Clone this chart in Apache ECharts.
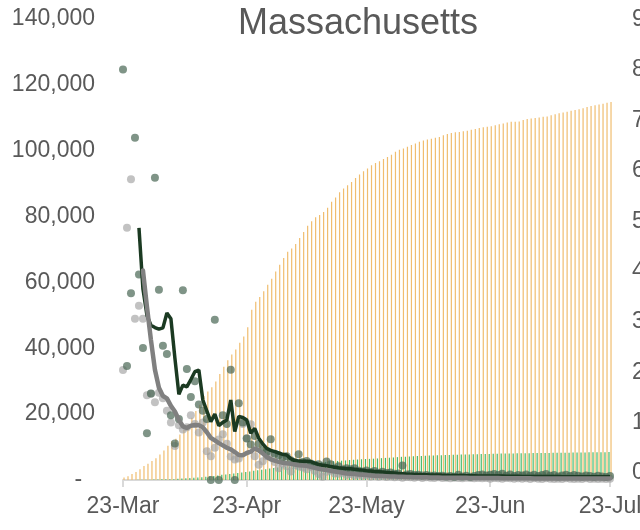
<!DOCTYPE html>
<html lang="en">
<head>
    <meta charset="UTF-8">
    <title>Massachusetts</title>
    <script src="https://cdn.jsdelivr.net/npm/echarts@6/dist/echarts.min.js"></script>
    <style>
        html, body { margin: 0; padding: 0; background: #fff; }
        #main { width: 640px; height: 530px; }
    </style>
</head>
<body>
<div id="main"></div>
<script type="text/javascript">
    // cumulative cases, one per day from 23-Mar to 23-Jul (left axis)
    var cumCases = [
        777, 1159, 1838, 2417, 3240, 4257, 4955, 5752, 6620, 7738,
        8966, 10402, 11736, 12500, 13837, 15202, 16790, 18941, 20974, 22860,
        25475, 26867, 28163, 29918, 32181, 34402, 36372, 38077, 39643, 41700,
        43600, 46400, 51700, 54100, 55600, 57300, 59300, 61100, 63300, 65400,
        67400, 69300, 70300, 71700, 73500, 75300, 77200, 78600, 79800, 80500,
        81400, 82700, 84500, 85800, 87400, 88500, 89500, 90500, 91700, 92800,
        93800, 94600, 95600, 96300, 96800, 97500, 98100, 98800, 99700, 100300,
        100700, 101200, 101700, 102200, 102700, 103100, 103400, 103600, 103900, 104200,
        104700, 105100, 105400, 105600, 105700, 105900, 106100, 106400, 106600, 106900,
        107100, 107300, 107400, 107700, 108000, 108300, 108600, 108800, 108800, 108900,
        109300, 109600, 109800, 109900, 110100, 110300, 110400, 110800, 111100, 111400,
        111600, 111800, 112100, 112400, 112600, 112900, 113300, 113600, 113800, 114000,
        114300, 114600, 114800
    ];
    // cumulative deaths
    var cumDeaths = [
        11, 15, 25, 35, 44, 48, 56, 89, 122, 154,
        192, 216, 231, 260, 356, 433, 503, 599, 686, 756,
        844, 957, 1108, 1245, 1404, 1560, 1706, 1809, 1961, 2100,
        2250, 2400, 2600, 2780, 2950, 3100, 3300, 3480, 3650, 3800,
        3950, 4090, 4212, 4420, 4552, 4702, 4840, 4979, 5108, 5141,
        5315, 5482, 5592, 5705, 5797, 5862, 5938, 6066, 6148, 6228,
        6304, 6372, 6416, 6473, 6547, 6640, 6718, 6768, 6846, 6948,
        7035, 7085, 7152, 7201, 7289, 7316, 7353, 7408, 7454, 7492,
        7538, 7576, 7606, 7647, 7665, 7707, 7734, 7769, 7800, 7828,
        7858, 7874, 7890, 7938, 7962, 8013, 8041, 8054, 8081, 8095,
        8115, 8132, 8149, 8170, 8183, 8198, 8208, 8226, 8243, 8268,
        8283, 8297, 8310, 8325, 8344, 8367, 8379, 8393, 8407, 8418,
        8433, 8450, 8466
    ];
    // daily points, dark series
    var darkDots = [
        124700, 34600, 56700, 103900, 62400, 40100, 14200, 26300, 91800, 57800,
        40800, 38300, 19700, 11100, 18500, 57600, 33700, 25200, 30000, 22900,
        21000, 18500, 0, 48700, 0, 19700, 17000, 33500, 0, 23300,
        17500, 12600, 10800, 13400, 11000, 9000, 8500, 12400, 8000, 7500,
        6800, 7200, 6000, 5500, 7800, 5500, 5800, 5000, 4600, 4800,
        4200, 5600, 4800, 3500, 4200, 3200, 3600, 3300, 3600, 2800,
        2600, 2900, 2400, 2700, 2200, 2500, 2100, 2300, 1900, 2000,
        4400, 1700, 1800, 1500, 1600, 1400, 1500, 1300, 1400, 1200,
        1300, 1100, 1200, 1000, 1600, 1100, 1300, 1000, 1200, 1500,
        1700, 1400, 1600, 1800, 1500, 1900, 1300, 1700, 1200, 1500,
        1400, 1700, 1300, 1600, 1200, 1500, 1800, 1300, 1500, 1100,
        1400, 1600, 1200, 1500, 1300, 1100, 1400, 1200, 1000, 1300,
        1100, 900, 1200
    ];
    // daily points, grey series
    var greyDots = [
        33400, 76600, 91300, 49000, 52900, 49000, 25700, 26200, 23600, 26500,
        24800, 21000, 17500, 10300, 16600, 15300, 16000, 19700, 17000, 14400,
        17500, 8700, 7200, 9800, 12300, 13900, 11000, 7100, 6200, 6500,
        17000, 12700, 16900, 7200, 4600, 5700, 7200, 8000, 5500, 3600,
        5000, 4200, 2600, 4500, 4100, 3800, 3300, 4000, 2800, 1800,
        1000, 2500, 2800, 2000, 1900, 2200, 1500, 1800, 1400, 1600,
        1300, 1500, 1100, 1300, 1000, 1200, 900, 1100, 800, 1000,
        700, 900, 800, 700, 900, 600, 800, 700, 600, 800,
        600, 700, 500, 700, 600, 500, 700, 600, 500, 600,
        500, 600, 400, 600, 500, 400, 600, 500, 400, 500,
        400, 500, 300, 500, 400, 300, 500, 400, 300, 400,
        300, 500, 400, 300, 400, 300, 500, 300, 400, 300,
        400, 300, 400
    ];
    // averaged lines
    var darkLine = [
        null, null, null, null, 76600, 58000, 50000, 47000, 46300, 45800,
        46200, 50700, 49000, 37000, 26000, 28800, 28300, 30500, 32900, 33400,
        24300, 21000, 17700, 20000, 16500, 17500, 18200, 24300, 14700, 19300,
        19000, 18200, 14200, 15700, 12700, 11000, 9600, 9000, 8600, 8200,
        7800, 7600, 6500, 5900, 5800, 5700, 5700, 5600, 5100, 4700,
        4500, 4300, 4100, 3900, 3700, 3600, 3500, 3400, 3300, 3100,
        3000, 2800, 2700, 2600, 2500, 2400, 2300, 2200, 2100, 2000,
        1900, 1800, 1750, 1700, 1650, 1600, 1600, 1550, 1500, 1500,
        1450, 1400, 1400, 1400, 1350, 1350, 1300, 1300, 1300, 1250,
        1250, 1250, 1200, 1200, 1200, 1200, 1150, 1150, 1150, 1150,
        1100, 1100, 1100, 1100, 1100, 1050, 1050, 1050, 1050, 1050,
        1000, 1000, 1000, 1000, 1000, 1000, 1000, 950, 950, 950,
        950, 950, 950
    ];
    var greyLine = [
        null, null, null, null, null, 63600, 52600, 42500, 33500, 28000,
        25500, 24800, 22500, 20800, 18200, 16300, 15800, 16500, 16700, 16600,
        16000, 14500, 12800, 12000, 11200, 10500, 9800, 9300, 8500, 7600,
        7500, 8200, 8600, 9600, 9000, 8100, 7000, 6300, 5900, 5500,
        5200, 5100, 4900, 4700, 4500, 4400, 4300, 4000, 3700, 3400,
        3200, 3000, 2800, 2600, 2400, 2200, 2000, 1900, 1800, 1700,
        1600, 1500, 1400, 1300, 1250, 1200, 1150, 1100, 1050, 1000,
        950, 900, 880, 860, 840, 820, 800, 780, 760, 740,
        720, 700, 690, 680, 670, 660, 650, 640, 630, 620,
        610, 600, 590, 580, 570, 560, 550, 540, 530, 520,
        510, 500, 500, 490, 490, 480, 480, 470, 470, 460,
        460, 450, 450, 450, 440, 440, 440, 430, 430, 430,
        420, 420, 420
    ];
    var rightTicks = [0, 1, 2, 3, 4, 5, 6, 7, 8, 9];
    var months = ['Jan', 'Feb', 'Mar', 'Apr', 'May', 'Jun', 'Jul', 'Aug', 'Sep', 'Oct', 'Nov', 'Dec'];

    // one category per day, 23-Mar .. 23-Jul
    var days = [];
    var d = new Date(2020, 2, 23);
    for (var i = 0; i < cumCases.length; i++) {
        days.push(d.getDate() + '-' + months[d.getMonth()]);
        d.setDate(d.getDate() + 1);
    }
    function isMonthTick(index, value) {
        return String(value).indexOf('23-') === 0;
    }

    var textColor = '#595959';
    var font = 'Liberation Sans, Arial, sans-serif';

    var chart = echarts.init(document.getElementById('main'), null, { renderer: 'canvas' });
    var option = {
        animation: false,
        backgroundColor: '#ffffff',
        title: {
            text: 'Massachusetts',
            left: 238,
            top: 6,
            padding: 0,
            textStyle: {
                fontFamily: font,
                fontSize: 36,
                fontWeight: 'normal',
                color: textColor
            }
        },
        grid: {
            left: 123,
            right: 30,
            top: 19,
            bottom: 50,
            containLabel: false,
            outerBoundsMode: 'none'
        },
        xAxis: {
            type: 'category',
            data: days,
            boundaryGap: false,
            axisLine: {
                lineStyle: { color: '#d9d9d9', width: 2 }
            },
            axisTick: {
                interval: isMonthTick,
                length: 7,
                lineStyle: { color: '#d9d9d9', width: 2 }
            },
            axisLabel: {
                interval: isMonthTick,
                hideOverlap: false,
                margin: 15,
                fontFamily: font,
                fontSize: 23,
                color: textColor
            },
            splitLine: { show: false }
        },
        yAxis: [{
            type: 'value',
            min: 0,
            max: 140000,
            interval: 20000,
            axisLine: { show: false },
            axisTick: { show: false },
            splitLine: { show: false },
            axisLabel: {
                margin: 28,
                fontFamily: font,
                fontSize: 23,
                color: textColor,
                formatter: function (v) {
                    return v === 0 ? '-  ' : v.toLocaleString('en-US');
                }
            }
        }, {
            type: 'value',
            position: 'right',
            min: -0.139,
            max: 9.014,
            axisLine: { show: false },
            axisTick: { show: false },
            splitLine: { show: false },
            axisLabel: {
                customValues: rightTicks,
                margin: 22,
                fontFamily: font,
                fontSize: 23,
                color: textColor
            }
        }],
        series: [{
            name: 'Deaths',
            type: 'bar',
            data: cumDeaths,
            barWidth: 1.2,
            barGap: '70%',
            clip: false,
            itemStyle: { color: '#45bb6c' }
        }, {
            name: 'Cases',
            type: 'bar',
            data: cumCases,
            barWidth: 1.2,
            barGap: '70%',
            clip: false,
            itemStyle: { color: '#f0bd6f' }
        }, {
            name: 'Grey daily',
            type: 'scatter',
            data: greyDots,
            symbolSize: 8,
            itemStyle: { color: 'rgba(160,160,160,0.8)' },
            z: 3
        }, {
            name: 'Dark daily',
            type: 'scatter',
            data: darkDots,
            symbolSize: 8,
            itemStyle: { color: 'rgba(72,102,84,0.88)' },
            z: 4
        }, {
            name: 'Dark average',
            type: 'line',
            data: darkLine,
            showSymbol: false,
            symbol: 'none',
            lineStyle: { color: '#1b3a22', width: 3.5 },
            z: 5
        }, {
            name: 'Grey average',
            type: 'line',
            data: greyLine,
            showSymbol: false,
            symbol: 'none',
            lineStyle: { color: '#808080', width: 4.5, cap: 'round' },
            z: 6
        }]
    };
    chart.setOption(option);
</script>
</body>
</html>
